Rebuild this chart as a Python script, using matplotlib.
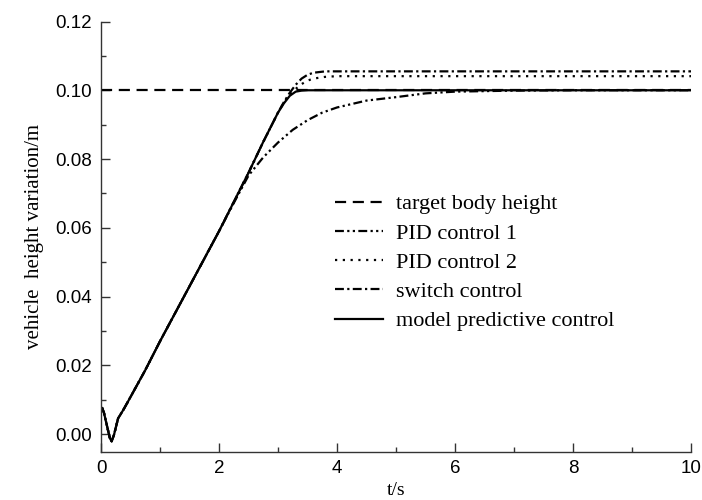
import matplotlib.pyplot as plt
from matplotlib.ticker import MultipleLocator

# time axis (s) for the response curves
t_mpc = [0, 0.02, 0.05, 0.1, 0.15, 0.18, 0.22, 0.29, 0.38, 0.5, 0.66, 0.75, 1.0, 1.25, 1.5,
         1.75, 2.0, 2.25, 2.5, 2.75, 3.0, 3.1, 3.2, 3.3, 3.4, 3.5, 4.0, 6.0, 8.0, 10.0]
y_mpc = [0.0072, 0.0076, 0.0062, 0.0025, -0.0012, -0.0021, -0.0002, 0.0046, 0.0071, 0.0108,
         0.0158, 0.0186, 0.027, 0.035, 0.043, 0.051, 0.059, 0.0675, 0.076, 0.085, 0.0935,
         0.0962, 0.0984, 0.0996, 0.0999, 0.1, 0.1, 0.1, 0.1, 0.1]

t_pid1 = [0, 0.02, 0.05, 0.1, 0.15, 0.18, 0.22, 0.29, 0.38, 0.5, 0.66, 0.75, 1.0, 1.25, 1.5,
          1.75, 2.0, 2.25, 2.5, 2.75, 3.0, 3.25, 3.5, 3.75, 4.0, 4.5, 5.0, 5.5, 6.0, 7.0, 8.0, 10.0]
y_pid1 = [0.0072, 0.0076, 0.0062, 0.0025, -0.0012, -0.0021, -0.0002, 0.0046, 0.0071, 0.0108,
          0.0158, 0.0186, 0.027, 0.035, 0.043, 0.051, 0.059, 0.0672, 0.0752, 0.0805, 0.0848,
          0.0885, 0.0913, 0.0935, 0.095, 0.097, 0.098, 0.0991, 0.0996, 0.0999, 0.1, 0.1]

t_pid2 = [0, 0.02, 0.05, 0.1, 0.15, 0.18, 0.22, 0.29, 0.38, 0.5, 0.66, 0.75, 1.0, 1.25, 1.5,
          1.75, 2.0, 2.25, 2.5, 2.75, 3.0, 3.1, 3.2, 3.3, 3.4, 3.5, 3.6, 3.8, 4.0, 6.0, 8.0, 10.0]
y_pid2 = [0.0072, 0.0076, 0.0062, 0.0025, -0.0012, -0.0021, -0.0002, 0.0046, 0.0071, 0.0108,
          0.0158, 0.0186, 0.027, 0.035, 0.043, 0.051, 0.059, 0.0675, 0.076, 0.085, 0.0935,
          0.0964, 0.0988, 0.1004, 0.1018, 0.1028, 0.1034, 0.1039, 0.1041, 0.1041, 0.1041, 0.1041]

t_switch = [0, 0.02, 0.05, 0.1, 0.15, 0.18, 0.22, 0.29, 0.38, 0.5, 0.66, 0.75, 1.0, 1.25, 1.5,
            1.75, 2.0, 2.25, 2.5, 2.75, 3.0, 3.1, 3.2, 3.3, 3.4, 3.5, 3.6, 3.8, 4.0, 6.0, 8.0, 10.0]
y_switch = [0.0072, 0.0076, 0.0062, 0.0025, -0.0012, -0.0021, -0.0002, 0.0046, 0.0071, 0.0108,
            0.0158, 0.0186, 0.027, 0.035, 0.043, 0.051, 0.059, 0.0675, 0.076, 0.085, 0.0935,
            0.0966, 0.0993, 0.1016, 0.1034, 0.1045, 0.1051, 0.1055, 0.1055, 0.1055, 0.1055, 0.1055]

t_target = [0, 10]
y_target = [0.1, 0.1]

labels = ["target body height", "PID control 1", "PID control 2",
          "switch control", "model predictive control"]

serif = ["Liberation Serif", "DejaVu Serif"]
sans = ["Liberation Sans", "DejaVu Sans"]

fig = plt.figure(figsize=(7.02, 5.0), dpi=100)
ax = fig.add_axes([0.1439, 0.096, 0.8404, 0.861])

ax.plot(t_target, y_target, color="black", lw=1.6, linestyle=(0, (5, 3)), label=labels[0])
ax.plot(t_pid1, y_pid1, color="black", lw=1.6, linestyle=(0, (4, 1.5, 1, 1.5, 1, 1.5)), label=labels[1])
ax.plot(t_pid2, y_pid2, color="black", lw=1.6, linestyle=(0, (1, 2.5)), label=labels[2])
ax.plot(t_switch, y_switch, color="black", lw=1.6, linestyle=(0, (4, 1.5, 1, 1.5)), label=labels[3])
ax.plot(t_mpc, y_mpc, color="black", lw=1.6, linestyle="-", label=labels[4])

ax.set_xlim(0, 10)
ax.set_ylim(-0.0052, 0.12)
ax.xaxis.set_major_locator(MultipleLocator(2))
ax.xaxis.set_minor_locator(MultipleLocator(1))
ax.yaxis.set_major_locator(MultipleLocator(0.02))
ax.yaxis.set_minor_locator(MultipleLocator(0.01))
ax.set_xticks([0, 2, 4, 6, 8, 10], ["0", "2", "4", "6", "8", "10"])
ax.set_yticks([0, 0.02, 0.04, 0.06, 0.08, 0.10, 0.12],
              ["0.00", "0.02", "0.04", "0.06", "0.08", "0.10", "0.12"])

ax.tick_params(which="both", direction="in", color="#333333", width=1)
ax.tick_params(which="major", length=6.3)
ax.tick_params(which="minor", length=3.4)
ax.tick_params(axis="y", pad=6.5)
ax.tick_params(axis="x", pad=5.5)
for lab in ax.get_xticklabels() + ax.get_yticklabels():
    lab.set_fontfamily(sans)
    lab.set_fontsize(13.5)

for s in ["top", "right"]:
    ax.spines[s].set_visible(False)
for s in ["left", "bottom"]:
    ax.spines[s].set_color("#333333")
    ax.spines[s].set_linewidth(1)

ax.set_xlabel("t/s", fontfamily=serif, fontsize=14, labelpad=4)
ax.set_ylabel("vehicle  height variation/m", fontfamily=serif, fontsize=15, labelpad=8)

ax.legend(loc="center left", bbox_to_anchor=(0.362, 0.440), frameon=False,
          prop={"family": serif, "size": 16}, handlelength=2.16, handletextpad=0.59,
          labelspacing=0.39)

fig.savefig("out.png", dpi=100)
